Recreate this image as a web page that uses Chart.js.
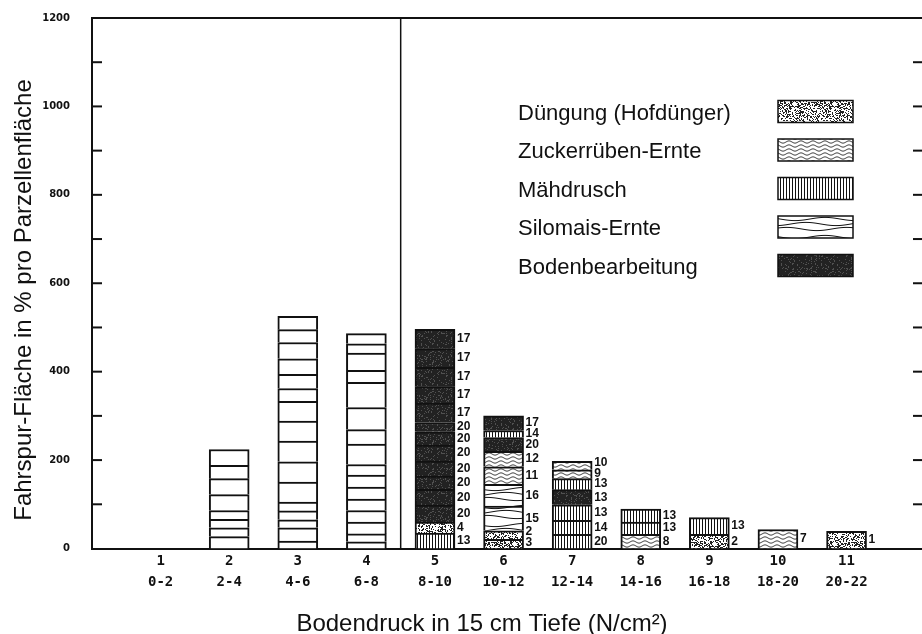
<!DOCTYPE html>
<html>
<head>
<meta charset="utf-8">
<script src="https://cdn.jsdelivr.net/npm/chart.js@4.4.1/dist/chart.umd.min.js"></script>
<style>
  body { margin: 0; background: #fff; }
  canvas { display: block; }
</style>
</head>
<body>
<canvas id="myChart" width="922" height="634"></canvas>
<script>
// Bodendruck-Klassen
const categories = ['1', '2', '3', '4', '5', '6', '7', '8', '9', '10', '11']
const ranges = ['0-2', '2-4', '4-6', '6-8', '8-10', '10-12', '12-14', '14-16', '16-18', '18-20', '20-22']

// segment heights per class, from the bottom up (Fahrspur-Fläche in %)
const heights = [
  [],
  [27, 20, 19, 20, 36, 36, 30, 36],
  [17, 30, 18, 20, 20, 45, 46, 47, 45, 45, 29, 32, 35, 37, 29, 30],
  [15, 18, 27, 26, 26, 27, 27, 24, 46, 33, 50, 57, 27, 39, 21, 23],
  [35, 25, 38, 36, 30, 34, 36, 30, 21, 44, 37, 44, 42, 44],
  [21, 19, 56, 49, 40, 35, 31, 16, 33],
  [32, 32, 35, 34, 25, 20, 19],
  [32, 28, 29],
  [32, 38],
  [43],
  [39]
]
// P = ohne Muster, D = Düngung, Z = Zuckerrüben, M = Mähdrusch, S = Silomais, B = Bodenbearbeitung
const kinds = ['', 'PPPPPPPP', 'PPPPPPPPPPPPPPPP', 'PPPPPPPPPPPPPPPP', 'MDBBBBBBBBBBBB', 'DDSSZZBMB', 'MMMBMZZ', 'ZMM', 'DM', 'Z', 'D']
// numbers written next to the segments
const marks = [
  [], [], [], [],
  [13, 4, 20, 20, 20, 20, 20, 20, 20, 17, 17, 17, 17, 17],
  [3, 2, 15, 16, 11, 12, 20, 14, 17],
  [20, 14, 13, 13, 13, 9, 10],
  [8, 13, 13],
  [2, 13],
  [7],
  [1]
]
const legendNames = ['Düngung (Hofdünger)', 'Zuckerrüben-Ernte', 'Mähdrusch', 'Silomais-Ernte', 'Bodenbearbeitung']
const legendKinds = ['D', 'Z', 'M', 'S', 'B']
const dividerAt = 4.5

const ink = '#111'

// fill textures
let seed = 11
function rnd() { seed = (seed * 16807) % 2147483647; return seed / 2147483647 }
function tile(w, h, draw) {
  const c = document.createElement('canvas')
  c.width = w; c.height = h
  const g = c.getContext('2d')
  g.fillStyle = '#fff'
  g.fillRect(0, 0, w, h)
  draw(g, w, h)
  return g.createPattern(c, 'repeat')
}
const patterns = {
  P: '#fff',
  D: tile(40, 40, (g, w, h) => {
    g.fillStyle = '#222'
    for (let y = 0; y < h; y++) for (let x = 0; x < w; x++) if (rnd() < 0.36) g.fillRect(x, y, 1, 1)
  }),
  Z: tile(12, 4, (g, w) => {
    g.strokeStyle = ink; g.lineWidth = 0.9
    g.beginPath()
    for (let x = 0; x <= w; x += 0.5) g.lineTo(x, 2 + 1.1 * Math.sin(x / w * 2 * Math.PI))
    g.stroke()
  }),
  M: tile(3, 1, g => { g.fillStyle = ink; g.fillRect(0, 0, 1, 1) }),
  S: tile(60, 18, (g, w) => {
    g.strokeStyle = ink; g.lineWidth = 1
    ;[[3, 0], [8, 2], [13, 4]].forEach(([y0, ph]) => {
      g.beginPath()
      for (let x = 0; x <= w; x += 1) g.lineTo(x, y0 + 1.6 * Math.sin(x / w * 2 * Math.PI + ph))
      g.stroke()
    })
  }),
  B: tile(40, 40, (g, w, h) => {
    g.fillStyle = '#222'; g.fillRect(0, 0, w, h)
    g.fillStyle = '#505050'
    for (let y = 0; y < h; y++) for (let x = 0; x < w; x++) if (rnd() < 0.14) g.fillRect(x, y, 1, 1)
  })
}

const maxLayers = Math.max(...heights.map(h => h.length))
const datasets = []
for (let k = 0; k < maxLayers; k++) {
  const pts = []
  heights.forEach((h, i) => {
    if (k < h.length) pts.push({ x: i + 1, y: h[k], kind: kinds[i][k], label: marks[i][k] })
  })
  datasets.push({
    data: pts,
    backgroundColor: c => (c.raw ? patterns[c.raw.kind] : '#fff'),
    borderColor: ink,
    borderWidth: 2,
    borderSkipped: 'start',
    barThickness: 40
  })
}

const extras = {
  id: 'extras',
  afterDatasetsDraw(chart) {
    const g = chart.ctx
    const bars = {}
    chart.data.datasets.forEach((ds, k) => {
      chart.getDatasetMeta(k).data.forEach((el, j) => {
        const raw = ds.data[j]
        if (raw.label === undefined) return
        ;(bars[raw.x] = bars[raw.x] || []).push({ x: el.x + el.width / 2, y: (el.y + el.base) / 2, text: raw.label })
      })
    })
    g.save()
    g.font = 'bold 12px "Liberation Sans"'
    g.fillStyle = ink
    g.textBaseline = 'middle'
    Object.values(bars).forEach(list => {
      let limit = chart.chartArea.bottom - 6
      list.forEach(item => {
        const y = Math.min(item.y, limit)
        g.fillText(String(item.text), item.x + 2, y)
        limit = y - 10.5
      })
    })
    g.restore()
  },
  afterDraw(chart) {
    const g = chart.ctx
    const { left, right, top, bottom } = chart.chartArea
    const xs = chart.scales.x, ys = chart.scales.y
    g.save()
    g.strokeStyle = ink
    // top line
    g.lineWidth = 2
    g.beginPath(); g.moveTo(left - 1, top); g.lineTo(right, top); g.stroke()
    // divider between classes 4 and 5
    g.lineWidth = 1.5
    const dx = xs.getPixelForValue(dividerAt)
    g.beginPath(); g.moveTo(dx, top); g.lineTo(dx, bottom); g.stroke()
    // inner ticks left and right
    g.lineWidth = 2
    for (let v = 100; v < 1200; v += 100) {
      const y = ys.getPixelForValue(v)
      g.beginPath(); g.moveTo(left, y); g.lineTo(left + 10, y); g.stroke()
      g.beginPath(); g.moveTo(right - 9, y); g.lineTo(right, y); g.stroke()
    }
    // legend
    g.font = '22px "Liberation Sans"'
    g.fillStyle = ink
    g.textBaseline = 'alphabetic'
    legendNames.forEach((name, i) => {
      const base = 119.5 + i * 38.5
      g.fillStyle = ink
      g.fillText(name, 518, base)
      g.fillStyle = patterns[legendKinds[i]]
      g.fillRect(778, base - 19, 75, 22)
      g.lineWidth = 1.5
      g.strokeRect(778, base - 19, 75, 22)
    })
    // axis titles
    g.fillStyle = ink
    g.font = '24px "Liberation Sans"'
    g.textAlign = 'center'
    g.fillText('Bodendruck in 15 cm Tiefe (N/cm²)', 482, 631)
    g.translate(31, 300)
    g.rotate(-Math.PI / 2)
    g.fillText('Fahrspur-Fläche in % pro Parzellenfläche', 0, 0)
    g.restore()
  }
}

const ctx = document.getElementById('myChart').getContext('2d')
new Chart(ctx, {
  type: 'bar',
  data: { datasets: datasets },
  options: {
    responsive: false,
    animation: false,
    layout: { padding: { top: 18, right: 0, bottom: 0, left: 0 } },
    plugins: { legend: { display: false }, tooltip: { enabled: false } },
    scales: {
      x: {
        type: 'linear',
        stacked: true,
        offset: false,
        min: 0,
        max: 12.1,
        afterFit(scale) {
          scale.height = 85.5
          scale.paddingLeft = 0
          scale.paddingRight = 0
        },
        afterBuildTicks(scale) { scale.ticks = categories.map((c, i) => ({ value: i + 1 })) },
        ticks: {
          autoSkip: false,
          maxRotation: 0,
          padding: 2,
          color: ink,
          font: { family: 'DejaVu Sans Mono', size: 14, weight: 'bold', lineHeight: 1.54 },
          callback: v => [categories[v - 1], ranges[v - 1]]
        },
        grid: { display: false, drawTicks: false },
        border: { display: true, width: 2, color: ink }
      },
      y: {
        stacked: true,
        min: 0,
        max: 1200,
        afterFit(scale) {
          scale.width = 92
          scale.paddingTop = 0
          scale.paddingBottom = 0
        },
        ticks: {
          stepSize: 200,
          padding: 22,
          color: ink,
          font: { family: 'DejaVu Sans', size: 10, weight: 'bold' },
          callback: v => String(v)
        },
        grid: { display: false, drawTicks: false },
        border: { display: true, width: 2, color: ink }
      }
    }
  },
  plugins: [extras]
})
</script>
</body>
</html>
